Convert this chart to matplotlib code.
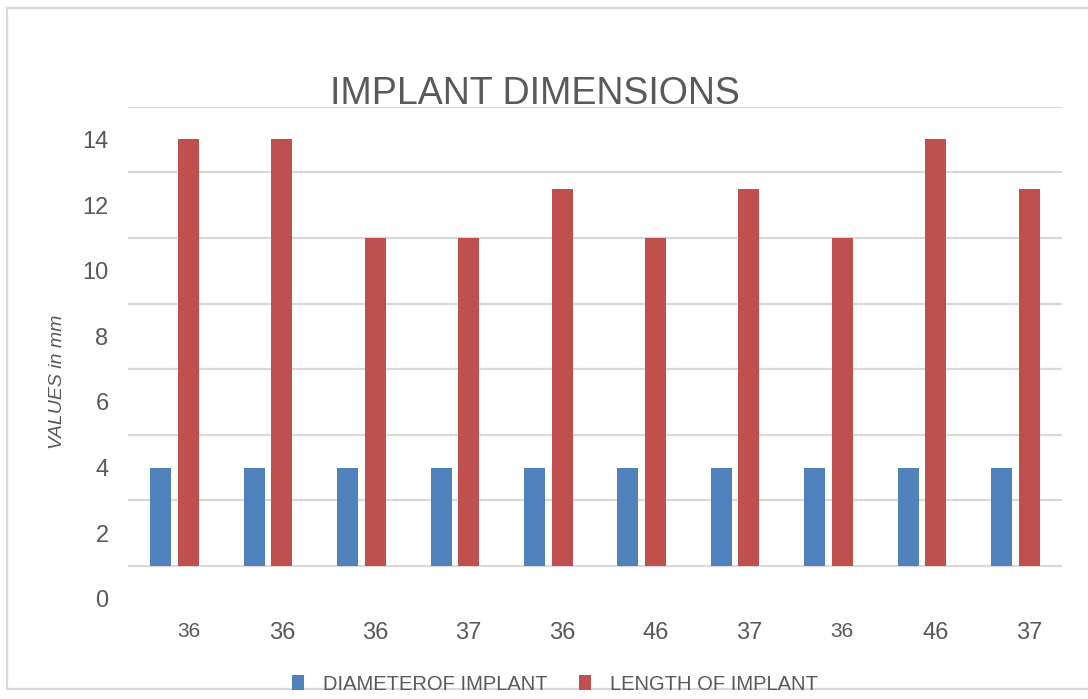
import matplotlib.pyplot as plt
import numpy as np
from matplotlib.lines import Line2D

# implant sites (tooth numbers) and measured dimensions, mm
sites = ["36", "36", "36", "37", "36", "46", "37", "36", "46", "37"]
diameter = [4, 4, 4, 4, 4, 4, 4, 4, 4, 4]
length = [14, 14, 11, 11, 12.5, 11, 12.5, 11, 14, 12.5]
small_labels = [0, 7]   # tick labels printed in a narrower face

base = 1          # bars sit on the lowest gridline
blue = "#4f81bd"
red = "#c0504d"
grey = "#595959"

plt.rcParams["font.family"] = ["Liberation Sans", "DejaVu Sans"]

fig = plt.figure(figsize=(10.88, 6.99), dpi=100)
ax = fig.add_axes([0.1176, 0.1434, 0.8585, 0.704])

x = np.arange(len(sites))
w = 0.225
off = 0.148
d = np.array(diameter, dtype=float)
L = np.array(length, dtype=float)
ax.bar(x - off, d - base, w, bottom=base, color=blue, label="DIAMETEROF IMPLANT", zorder=3)
ax.bar(x + off, L - base, w, bottom=base, color=red, label="LENGTH OF IMPLANT", zorder=3)

ax.set_xlim(-0.5, len(sites) - 0.5)
ax.set_ylim(0, 15)

# labels on even values, gridlines on the odd ones
ax.set_yticks(np.arange(0, 15, 2))
ax.set_yticks(np.arange(1, 16, 2), minor=True)
ax.yaxis.grid(True, which="minor", color="#d9d9d9", linewidth=1.6, zorder=0)
ax.tick_params(axis="y", which="both", length=0, labelsize=17, labelcolor=grey, pad=14)
for t in ax.get_yticklabels():
    t.set_va("center_baseline")

ax.set_xticks(x + off)
ax.set_xticklabels(sites)
ax.tick_params(axis="x", length=0, labelsize=17, labelcolor=grey, pad=17)
for i, t in enumerate(ax.get_xticklabels()):
    if i in small_labels:
        t.set_fontsize(15)

for s in ax.spines.values():
    s.set_visible(False)

ax.set_ylabel("VALUES in mm", fontsize=14, style="italic", color=grey)
ax.yaxis.set_label_coords(-0.066, 0.44)

fig.text(0.4915, 0.851, "IMPLANT DIMENSIONS", fontsize=27, color=grey, ha="center", va="baseline")

# chart border
fig.add_artist(Line2D([0.0066, 0.0066], [0.014, 0.988], transform=fig.transFigure, color="#d9d9d9", lw=1.6))
fig.add_artist(Line2D([0.0066, 1.0], [0.988, 0.988], transform=fig.transFigure, color="#d9d9d9", lw=1.6))
fig.add_artist(Line2D([0.0066, 1.0], [0.014, 0.014], transform=fig.transFigure, color="#d9d9d9", lw=1.6))

handles, labels = ax.get_legend_handles_labels()
fig.legend(handles, labels, loc="center", bbox_to_anchor=(0.51, 0.021), ncol=2, frameon=False,
           fontsize=14.5, labelcolor=grey, handlelength=0.6, handleheight=0.75,
           handletextpad=0.9, columnspacing=1.6)

fig.savefig("out.png", dpi=100)
